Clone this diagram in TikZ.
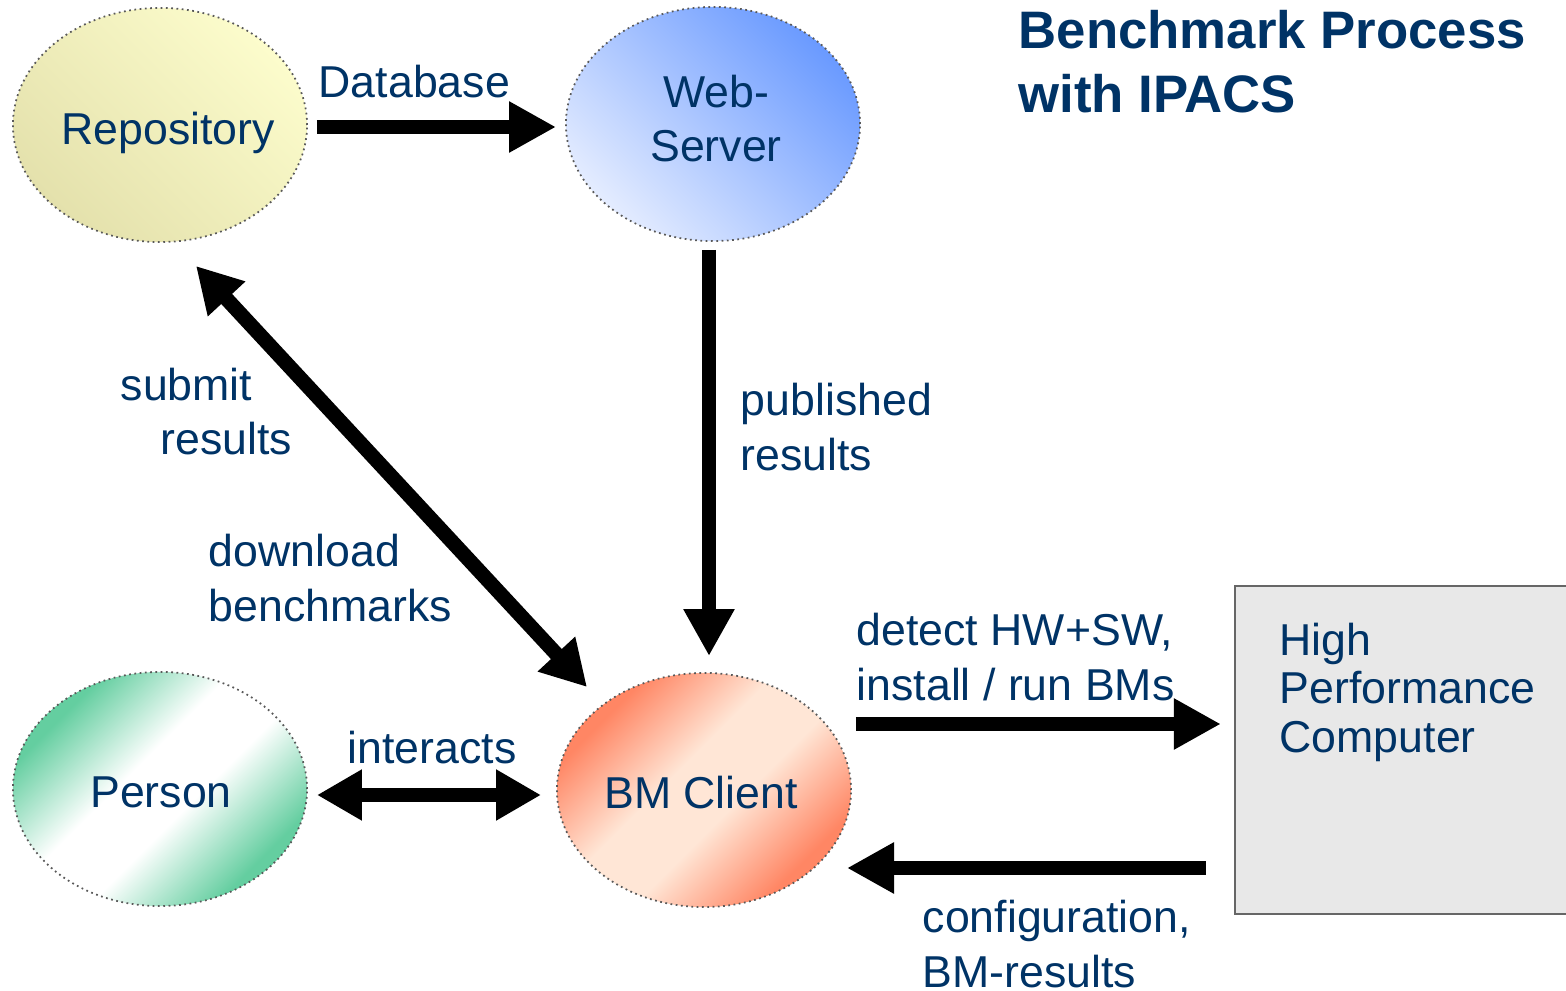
\documentclass[tikz,border=0pt]{standalone}
\usepackage{fontspec}
\setmainfont{Liberation Sans}
\usetikzlibrary{shapes.geometric}
\usetikzlibrary{arrows.meta}
\definecolor{navy}{RGB}{0,51,102}
\definecolor{repolight}{RGB}{252,252,204}
\definecolor{repodark}{RGB}{228,225,172}
\definecolor{weblight}{RGB}{228,236,255}
\definecolor{webdark}{RGB}{106,154,255}
\definecolor{persongreen}{RGB}{100,206,160}
\definecolor{bmorange}{RGB}{255,134,100}
\definecolor{bmlight}{RGB}{255,230,214}
\definecolor{hpcgray}{RGB}{232,232,232}
\pgfdeclareverticalshading{personshade}{100bp}{color(0bp)=(persongreen); color(27bp)=(persongreen); color(44bp)=(white); color(56bp)=(white); color(73bp)=(persongreen); color(100bp)=(persongreen)}
\pgfdeclareverticalshading{bmshade}{100bp}{color(0bp)=(bmorange); color(27bp)=(bmorange); color(44bp)=(bmlight); color(56bp)=(bmlight); color(73bp)=(bmorange); color(100bp)=(bmorange)}
\tikzset{
	blob/.style={ellipse,draw=black!65,densely dotted,line width=0.5pt,minimum width=2.94cm,minimum height=2.34cm,inner sep=0pt},
	repofill/.style={top color=repolight,bottom color=repodark,shading angle=-45},
	webfill/.style={top color=webdark,bottom color=weblight,shading angle=-45},
	personfill/.style={shading=personshade,shading angle=45},
	bmfill/.style={shading=bmshade,shading angle=45},
	hpcbox/.style={rectangle,fill=hpcgray,draw=black!60,line width=0.6pt,minimum width=3.36cm,minimum height=3.28cm,inner sep=0pt},
	actname/.style={text=navy,anchor=base,inner sep=0pt,align=center,font=\fontsize{12.7}{15.6}\selectfont},
	labl/.style={text=navy,anchor=base west,inner sep=0pt,align=left,font=\fontsize{12.7}{15.6}\selectfont},
	hpctext/.style={font=\fontsize{12.7}{13.75}\selectfont},
	headline/.style={text=navy,anchor=base west,inner sep=0pt,align=left,font=\bfseries\fontsize{15}{18.4}\selectfont},
	bigarrow/.style={line width=4.2pt,-{Triangle[length=0.47cm,width=0.48cm]}},
	bothways/.style={line width=4.2pt,{Triangle[length=0.45cm,width=0.48cm]}-{Triangle[length=0.45cm,width=0.48cm]}},
	}

\begin{document}
\begin{tikzpicture}[x=0.01cm,y=-0.01cm]
\useasboundingbox (0,0) rectangle (1566,991);

% multi-line nodes sit on their last baseline
\node (title) at (1018,113) [headline] {Benchmark Process\\with IPACS};

% actors
\node (repo) at (160,125) [blob,repofill] {};
\node (web) at (713,124) [blob,webfill] {};
\node (person) at (160,789) [blob,personfill] {};
\node (bm) at (704,790) [blob,bmfill] {};
\node (hpc) at (1403,750) [hpcbox] {};

\node (repotxt) at (168,145) [actname] {Repository};
\node (webtxt) at (716,162) [actname] {Web-\\Server};
\node (persontxt) at (161,807) [actname] {Person};
\node (bmtxt) at (701,808) [actname] {BM Client};
\node (hpctxt) at (1279,752) [labl,hpctext] {High\\Performance\\Computer};

% arrows
\draw[bigarrow] ([shift={(9,2)}]repo.east) -- ([shift={(-9,3)}]web.west);
\draw[bigarrow] ([shift={(-4,8)}]web.south) -- ([shift={(5,-16)}]bm.north);
\draw[bothways] ([shift={(36,23)}]repo.south) -- ([shift={(-117,15)}]bm.north);
\draw[bothways] ([shift={(9,6)}]person.east) -- ([shift={(-15,5)}]bm.west);
\draw[bigarrow] ([shift={(4,-66)}]bm.east) -- ([shift={(-13,-26)}]hpc.west);
\draw[bigarrow] ([shift={(-28,118)}]hpc.west) -- ([shift={(-5,78)}]bm.east);

\node (dbl) at (318,98) [labl] {Database};
\node (subl) at (120,455) [labl] {submit\\\hspace*{0.4cm}results};
\node (publ) at (740,470) [labl] {published\\results};
\node (dll) at (208,621) [labl] {download\\benchmarks};
\node (intl) at (347,763) [labl] {interacts};
\node (detl) at (856,700) [labl] {detect HW+SW,\\install / run BMs};
\node (cfgl) at (922,987) [labl] {configuration,\\BM-results};
\end{tikzpicture}
\end{document}
